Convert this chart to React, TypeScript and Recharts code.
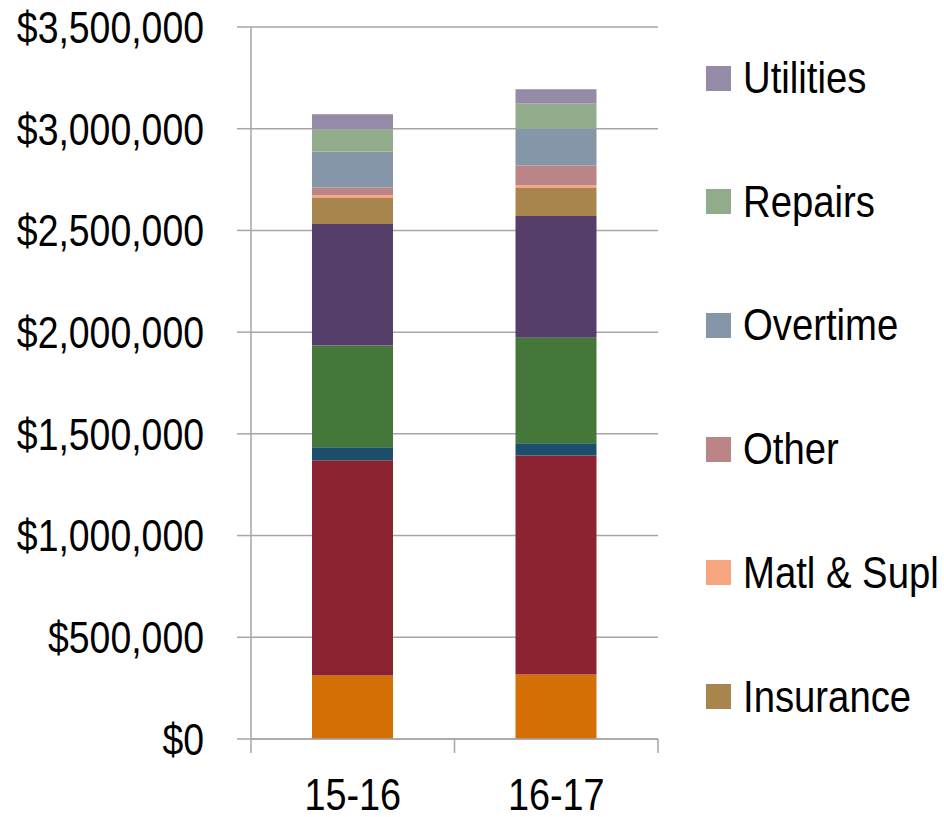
import React from "react";
import { BarChart, Bar, XAxis, YAxis, CartesianGrid, Legend } from "recharts";

const categories = ["15-16", "16-17"];
const salaries = [312000, 317000];
const benefits = [1058000, 1076000];
const vehicles = [64000, 61000];
const contracts = [500000, 519000];
const personnel = [598000, 598000];
const insurance = [128000, 138000];
const matlSupl = [13000, 13000];
const other = [38000, 97000];
const overtime = [177000, 179000];
const repairs = [108000, 126000];
const utilities = [75000, 70000];
const yTicks = [0, 500000, 1000000, 1500000, 2000000, 2500000, 3000000, 3500000];

const series = [
  { key: "salaries", name: "Salaries", values: salaries, color: "#D46F06", legend: false },
  { key: "benefits", name: "Benefits", values: benefits, color: "#8B2331", legend: false },
  { key: "vehicles", name: "Vehicles", values: vehicles, color: "#1B4E6B", legend: false },
  { key: "contracts", name: "Contracts", values: contracts, color: "#46773A", legend: false },
  { key: "personnel", name: "Personnel", values: personnel, color: "#553F6A", legend: false },
  { key: "insurance", name: "Insurance", values: insurance, color: "#A9854E", legend: true },
  { key: "matl", name: "Matl & Supl", values: matlSupl, color: "#F6A57F", legend: true },
  { key: "other", name: "Other", values: other, color: "#BB8487", legend: true },
  { key: "overtime", name: "Overtime", values: overtime, color: "#8596A8", legend: true },
  { key: "repairs", name: "Repairs", values: repairs, color: "#91AC8A", legend: true },
  { key: "utilities", name: "Utilities", values: utilities, color: "#968BA6", legend: true },
];

const data = categories.map((c, i) => {
  const row: Record<string, any> = { year: c };
  series.forEach((s) => (row[s.key] = s.values[i]));
  return row;
});

const FONT = "'Liberation Sans', Arial, sans-serif";
const GRID = "#A6A6A6";

const W = 944;
const H = 817;
const M_RIGHT = 286;
const LEGEND_W = 238;
const Y_W = 251;
const HALF_BAND = (W - M_RIGHT - Y_W) / categories.length / 2;

const fmt = (v: number) => "$" + v.toLocaleString("en-US");

const YTick = (props: any) => {
  const { x, y, payload } = props;
  return (
    <text
      transform={`translate(${x},${y}) scale(0.85,1)`}
      textAnchor="end"
      dy="0.36em"
      fontSize={44}
      fontFamily={FONT}
      fill="#000"
    >
      {fmt(payload.value)}
    </text>
  );
};

const XTick = (props: any) => {
  const { x, y, payload, index } = props;
  const axisY = y - 40;
  return (
    <g>
      <line x1={x - HALF_BAND} x2={x - HALF_BAND} y1={axisY} y2={axisY + 14} stroke={GRID} strokeWidth={1.5} />
      {index === categories.length - 1 && (
        <line x1={x + HALF_BAND} x2={x + HALF_BAND} y1={axisY} y2={axisY + 14} stroke={GRID} strokeWidth={1.5} />
      )}
      <text
        transform={`translate(${x},${y}) scale(0.86,1)`}
        textAnchor="middle"
        dy="0.71em"
        fontSize={44}
        fontFamily={FONT}
        fill="#000"
      >
        {payload.value}
      </text>
    </g>
  );
};

const LegendContent = () => {
  const items = series.filter((s) => s.legend).slice().reverse();
  return (
    <div style={{ position: "relative", width: LEGEND_W, height: 760 }}>
      {items.map((s, i) => (
        <div
          key={s.key}
          style={{
            position: "absolute",
            left: 0,
            top: 78 + 123.7 * i - 16,
            height: 0,
            display: "flex",
            alignItems: "center",
            whiteSpace: "nowrap",
          }}
        >
          <div style={{ width: 25, height: 25, background: s.color, marginRight: 12, flex: "none" }} />
          <span
            style={{
              fontFamily: FONT,
              fontSize: 44,
              color: "#000",
              lineHeight: "1",
              display: "inline-block",
              transform: "scaleX(0.87)",
              transformOrigin: "left center",
            }}
          >
            {s.name}
          </span>
        </div>
      ))}
    </div>
  );
};

export default function App() {
  return (
    <div style={{ position: "absolute", left: 0, top: 0 }}>
      <BarChart
        width={W}
        height={H}
        data={data}
        margin={{ top: 27, right: M_RIGHT - LEGEND_W, left: 0, bottom: 0 }}
      >
        <CartesianGrid vertical={false} stroke={GRID} strokeWidth={1.5} />
        <XAxis
          dataKey="year"
          height={78}
          axisLine={{ stroke: GRID, strokeWidth: 1.5 }}
          tickLine={false}
          tickSize={0}
          tickMargin={40}
          tick={<XTick />}
        />
        <YAxis
          width={Y_W}
          domain={[0, 3500000]}
          ticks={yTicks}
          tickFormatter={fmt}
          tickSize={14}
          tickMargin={33}
          axisLine={{ stroke: GRID, strokeWidth: 1.5 }}
          tickLine={{ stroke: GRID, strokeWidth: 1.5 }}
          tick={<YTick />}
        />
        <Legend
          layout="vertical"
          align="right"
          verticalAlign="top"
          wrapperStyle={{ left: 706, top: 16, width: LEGEND_W }}
          content={<LegendContent />}
        />
        {series.map((s) => (
          <Bar
            key={s.key}
            dataKey={s.key}
            name={s.name}
            stackId="a"
            fill={s.color}
            barSize={81}
            isAnimationActive={false}
          />
        ))}
      </BarChart>
    </div>
  );
}
